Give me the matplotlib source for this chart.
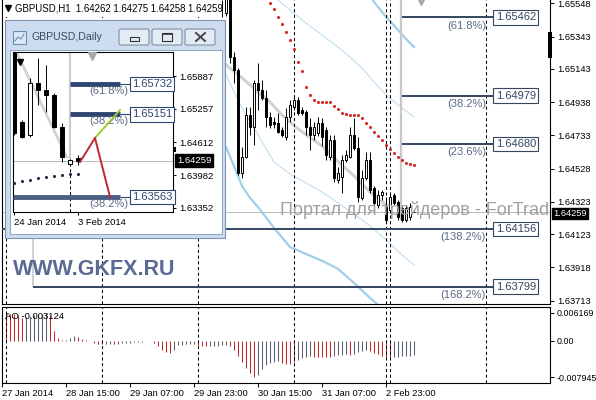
import matplotlib
matplotlib.use('Agg')
import matplotlib.pyplot as plt
from matplotlib.patches import Rectangle, FancyBboxPatch

plt.rcParams['font.family'] = ['Liberation Sans', 'DejaVu Sans']

# ---- GBPUSD H1 candles (bar index counted from 27 Jan 23:00) ----
h1_idx = list(range(56, 104))
h1_open = [1.65489, 1.65600, 1.65217, 1.65137, 1.64501, 1.64600, 1.64859, 1.64785, 1.65057, 1.65013,
           1.64964, 1.64847, 1.64816, 1.64810, 1.64767, 1.64723, 1.64847, 1.64909, 1.64952, 1.64890,
           1.64878, 1.64785, 1.64736, 1.64748, 1.64810, 1.64767, 1.64600, 1.64705, 1.64458, 1.64476,
           1.64581, 1.64600, 1.64736, 1.64656, 1.64347, 1.64470, 1.64581, 1.64409, 1.64303, 1.64365,
           1.64291, 1.64273, 1.64365, 1.64322, 1.64285, 1.64211, 1.64229, 1.64262]
h1_high = [1.65631, 1.65631, 1.65248, 1.65149, 1.64662, 1.64909, 1.64909, 1.65075, 1.65180, 1.65075,
           1.65013, 1.64878, 1.64847, 1.64872, 1.64785, 1.64902, 1.64952, 1.64970, 1.64970, 1.64909,
           1.64890, 1.64841, 1.64816, 1.64847, 1.64841, 1.64785, 1.64736, 1.64736, 1.64538, 1.64612,
           1.64643, 1.64785, 1.64841, 1.64723, 1.64520, 1.64631, 1.64631, 1.64420, 1.64396, 1.64396,
           1.64353, 1.64384, 1.64378, 1.64334, 1.64303, 1.64303, 1.64316, 1.64275]
h1_low = [1.65470, 1.65180, 1.65057, 1.64489, 1.64470, 1.64594, 1.64736, 1.64674, 1.64890, 1.64952,
          1.64785, 1.64779, 1.64779, 1.64748, 1.64723, 1.64705, 1.64816, 1.64890, 1.64859, 1.64859,
          1.64736, 1.64643, 1.64705, 1.64730, 1.64668, 1.64581, 1.64581, 1.64446, 1.64439, 1.64378,
          1.64569, 1.64594, 1.64643, 1.64322, 1.64334, 1.64458, 1.64378, 1.64303, 1.64285, 1.64334,
          1.64199, 1.64254, 1.64303, 1.64211, 1.64199, 1.64199, 1.64211, 1.64258]
h1_close = [1.65581, 1.65217, 1.65137, 1.64501, 1.64600, 1.64859, 1.64785, 1.65057, 1.65013, 1.64964,
            1.64847, 1.64797, 1.64804, 1.64754, 1.64736, 1.64847, 1.64921, 1.64952, 1.64872, 1.64872,
            1.64785, 1.64736, 1.64785, 1.64810, 1.64723, 1.64612, 1.64705, 1.64470, 1.64501, 1.64581,
            1.64612, 1.64736, 1.64656, 1.64353, 1.64470, 1.64581, 1.64396, 1.64316, 1.64365, 1.64384,
            1.64211, 1.64353, 1.64316, 1.64229, 1.64211, 1.64285, 1.64291, 1.64259]

# red dotted indicator
sar_idx = list(range(67, 104))
sar_val = [1.65550, 1.65513, 1.65464, 1.65421, 1.65371, 1.65322, 1.65267, 1.65186, 1.65131, 1.65032,
           1.64983, 1.64952, 1.64939, 1.64939, 1.64939, 1.64939, 1.64915, 1.64896, 1.64871, 1.64865,
           1.64859, 1.64859, 1.64859, 1.64841, 1.64810, 1.64785, 1.64754, 1.64729, 1.64705, 1.64674,
           1.64649, 1.64625, 1.64600, 1.64581, 1.64563, 1.64557, 1.64550]

# band lines
up_thick_idx = [91, 93, 95, 97, 99, 101, 103]
up_thick_val = [1.65631, 1.65557, 1.65495, 1.65439, 1.65384, 1.65328, 1.65279]
lo_thick_idx = [56, 58, 60, 62, 64, 68, 72, 76, 80, 84, 88, 92, 96, 100, 103]
lo_thick_val = [1.64662, 1.64544, 1.64421, 1.64347, 1.64291, 1.64162, 1.64044, 1.64001, 1.63959,
                1.63909, 1.63822, 1.63730, 1.63643, 1.63563, 1.63501]
up_thin_idx = [66, 69, 72, 75, 78, 81, 84, 87, 90, 93, 96, 100, 103]
up_thin_val = [1.65631, 1.65569, 1.65507, 1.65446, 1.65390, 1.65334, 1.65279, 1.65217, 1.65149,
               1.65063, 1.64983, 1.64902, 1.64847]
lo_thin_idx = [56, 60, 64, 68, 72, 76, 80, 84, 88, 92, 96, 100, 103]
lo_thin_val = [1.65106, 1.64902, 1.64736, 1.64569, 1.64495, 1.64439, 1.64384, 1.64316, 1.64248,
               1.64174, 1.64088, 1.63995, 1.63933]
gray_idx = [56, 60, 64, 67, 70, 74, 80, 83, 88, 92, 96]
gray_val = [1.65168, 1.65088, 1.65001, 1.64939, 1.64859, 1.64773, 1.64668, 1.64594, 1.64483,
            1.64384, 1.64303]

# fibo expansion levels
fib_levels = [1.65462, 1.64979, 1.64680, 1.64156, 1.63799]
fib_names = ['(61.8%)', '(38.2%)', '(23.6%)', '(138.2%)', '(168.2%)']
fib_start = [100, 100, 100, 0, 7.75]

separators = [1, 25, 49, 73, 96, 97, 121]
main_ticks = [1.65548, 1.65343, 1.65143, 1.64938, 1.64733, 1.64528, 1.64323, 1.64123, 1.63918, 1.63713]
time_pos = [0, 16, 32, 48, 64, 80, 96]
time_labels = ['27 Jan 2014', '28 Jan 15:00', '29 Jan 07:00', '29 Jan 23:00',
               '30 Jan 15:00', '31 Jan 07:00', '2 Feb 23:00']

# Awesome Oscillator
ao_vals = [0.00620, 0.00612, 0.00604, 0.00593, 0.00577, 0.00500, 0.00530, 0.00552, 0.00570, 0.00588,
           0.00603, 0.006169, 0.00580, 0.00222, 0.00063, 0.00020, 0.00032, 0.00071, 0.00103, 0.00087,
           0.00048, 0.00020, -0.00007, -0.00035, -0.00055, -0.00069, -0.00066, -0.00062, -0.00069, -0.00062,
           -0.00048, -0.00042, -0.00035, -0.00028, -0.00021, -0.00014, -0.00010, -0.00007, -0.00048, -0.00118,
           -0.00187, -0.00235, -0.00256, -0.00200, -0.00097, -0.00083, -0.00076, -0.00072, -0.00069, -0.00090,
           -0.00104, -0.00111, -0.00108, -0.00104, -0.00101, -0.00097, -0.00090, -0.00118, -0.00187, -0.00325,
           -0.00463, -0.00587, -0.00705, -0.007945, -0.00753, -0.00615, -0.00532, -0.00484, -0.00463, -0.00449,
           -0.00477, -0.00498, -0.00511, -0.00463, -0.00415, -0.00380, -0.00359, -0.00339, -0.00342, -0.00346,
           -0.00350, -0.00352, -0.00355, -0.00325, -0.00311, -0.00297, -0.00290, -0.00304, -0.00276, -0.00242,
           -0.00221, -0.00207, -0.00221, -0.00256, -0.00290, -0.00325, -0.00346, -0.00359, -0.00352, -0.00345,
           -0.00338, -0.00332, -0.00325, -0.003124]
ao_ticks = [0.006169, 0.0, -0.007945]
ao_tick_labels = ['0.006169', '0.00', '-0.007945']

# ---- GBPUSD Daily (inset) ----
d_idx = list(range(9))
d_open = [1.66482, 1.65004, 1.64754, 1.65753, 1.65618, 1.65522, 1.64908, 1.64197, 1.64312]
d_high = [1.66578, 1.65042, 1.65849, 1.66233, 1.66098, 1.65560, 1.64984, 1.64293, 1.64370]
d_low = [1.64754, 1.64696, 1.64716, 1.65330, 1.65196, 1.64888, 1.64235, 1.64178, 1.64178]
d_close = [1.64792, 1.64716, 1.65753, 1.65618, 1.65522, 1.64908, 1.64331, 1.64274, 1.64259]
d_sar = [1.63832, 1.63861, 1.63890, 1.63928, 1.63947, 1.63967, 1.63986, 1.64005, 1.64005]
d_trend_x = [0, 6.6]
d_trend_y = [1.66444, 1.64331]
d_fib_levels = [1.65732, 1.65151, 1.63563]
d_fib_names = ['(61.8%)', '(38.2%)', '(38.2%)']
d_fib_start = [7, 7, -0.125]
d_red1_x, d_red1_y = [8.25, 10.125], [1.64235, 1.64696]
d_green_x, d_green_y = [10.125, 13.25], [1.64696, 1.65234]
d_red2_x, d_red2_y = [10.125, 12], [1.64696, 1.63563]
d_ticks = [1.65887, 1.65257, 1.64612, 1.63982, 1.63352]
d_time_pos = [0, 8]
d_time_labels = ['24 Jan 2014', '3 Feb 2014']

bid = h1_close[-1]
fib_col = '#34465f'
pct_col = '#5b6b82'
red_col = '#c0282d'
gray_col = '#56606e'

fig = plt.figure(figsize=(5.96, 4), dpi=100)
fig.patch.set_facecolor('white')

# ---- main H1 chart ----
ax = fig.add_axes([2 / 596, 1 - 304 / 400, 548 / 596, 304 / 400])
ax.set_xlim(0, 137)
ax.set_ylim(1.63692, 1.65569)

ax.plot(lo_thick_idx, lo_thick_val, color='#9fcfea', lw=1.6, zorder=1)
ax.plot(up_thick_idx, up_thick_val, color='#9fcfea', lw=1.6, zorder=1)
ax.plot(up_thin_idx, up_thin_val, color='#b6dbef', lw=0.7, zorder=1)
ax.plot(lo_thin_idx, lo_thin_val, color='#b6dbef', lw=0.7, zorder=1)
ax.plot(gray_idx, gray_val, color='#d2d2d2', lw=2.2, zorder=1)

for s in separators:
    ax.axvline(s, color='black', lw=0.75, ls=(0, (3, 2.5)), zorder=2)
ax.axhline(bid, color='#b8b8b8', lw=0.7, zorder=2)
ax.vlines(99.75, 1.64211, 1.657, color='#c8c8c8', lw=1.6, zorder=2)
ax.vlines(7.75, 1.63799, 1.6460, color='#c8c8c8', lw=1.2, zorder=2)
ax.plot(104.75, 1.65562, marker='v', color='#a8a8a8', ms=6, zorder=2)

# candles
bottoms = [min(o, c) for o, c in zip(h1_open, h1_close)]
heights = [abs(c - o) for o, c in zip(h1_open, h1_close)]
fills = ['white' if c >= o else 'black' for o, c in zip(h1_open, h1_close)]
ax.vlines(h1_idx, h1_low, h1_high, color='black', lw=0.7, zorder=3)
ax.bar(h1_idx, heights, bottom=bottoms, width=0.7, color=fills, edgecolor='black', linewidth=0.7, zorder=4)

ax.scatter(sar_idx, sar_val, s=5, color='#d42a2a', linewidths=0, zorder=5)

for lev, name, st in zip(fib_levels, fib_names, fib_start):
    ax.hlines(lev, st, 122.75, color=fib_col, lw=1.4, zorder=5)
    ax.annotate(name, (121, lev), xytext=(0, -2.5), textcoords='offset points',
                ha='right', va='top', fontsize=8, color=pct_col, zorder=6)
    ax.text(123.4, lev, '%.5f' % lev, ha='left', va='center', fontsize=8, color=fib_col, zorder=6,
            bbox=dict(boxstyle='square,pad=0.2', fc='white', ec=fib_col, lw=0.8))

ax.text(2.75, 1.63871, 'WWW.GKFX.RU', fontsize=15.5, fontweight='bold', color='#5a6b93',
        va='baseline', ha='left', zorder=6)
ax.text(69.5, 1.64273, 'Портал для трейдеров - ForTrader.ru', fontsize=13, color='#a0a0a0',
        va='center', ha='left', zorder=6, clip_on=True)

ax.yaxis.tick_right()
ax.set_yticks(main_ticks)
ax.set_yticklabels(['%.5f' % t for t in main_ticks])
ax.tick_params(axis='y', length=3, width=0.7, pad=2.5, labelsize=6.7, direction='out')
ax.set_xticks([])
ax.spines['top'].set_visible(False)
for sp in ['left', 'right', 'bottom']:
    ax.spines[sp].set_linewidth(0.8)
ax.annotate('%.5f' % bid, xy=(1, bid), xycoords=('axes fraction', 'data'), xytext=(2.5, -1),
            textcoords='offset points', ha='left', va='center', fontsize=6.7, color='white',
            bbox=dict(boxstyle='square,pad=0.15', fc='black', ec='black'), annotation_clip=False)

# ---- AO panel ----
ax2 = fig.add_axes([2 / 596, 1 - 383 / 400, 548 / 596, 76 / 400])
ax2.set_xlim(0, 137)
ax2.set_ylim(-0.00924, 0.00748)
ao_idx = list(range(len(ao_vals)))
ao_colors = [red_col if k == 0 or ao_vals[k] < ao_vals[k - 1] else gray_col for k in ao_idx]
ax2.vlines(ao_idx, 0, ao_vals, colors=ao_colors, lw=0.75)
for s in separators:
    ax2.axvline(s, color='black', lw=0.75, ls=(0, (3, 2.5)))
ax2.text(0.006, 0.93, 'AO %.6f' % ao_vals[-1], transform=ax2.transAxes, va='top', ha='left', fontsize=6.8)
ax2.yaxis.tick_right()
ax2.set_yticks(ao_ticks)
ax2.set_yticklabels(ao_tick_labels)
ax2.set_xticks(time_pos)
ax2.set_xticklabels(time_labels, ha='left')
ax2.tick_params(axis='y', length=3, width=0.7, pad=2, labelsize=6.4)
ax2.tick_params(axis='x', length=3, width=0.7, pad=1.5, labelsize=6.7)
for sp in ax2.spines.values():
    sp.set_linewidth(0.8)

# ---- window chrome (pixel coordinates) ----
axc = fig.add_axes([0, 0, 1, 1], zorder=10)
axc.set_xlim(0, 596)
axc.set_ylim(400, 0)
axc.axis('off')
axc.patch.set_alpha(0)

axc.add_patch(Rectangle((2.5, 0), 219.5, 17, fc='white', ec='none'))
axc.vlines(222, 0, 17, color='black', lw=0.7)
axc.plot(8, 8, marker='v', color='black', ms=4)
axc.text(15, 8.5, 'GBPUSD,H1  %.5f %.5f %.5f %.5f' % (h1_open[-1], h1_high[-1], h1_low[-1], h1_close[-1]),
         fontsize=6.9, va='center', ha='left')
axc.add_patch(Rectangle((548, 32), 4, 26, fc='black', ec='none'))

axc.add_patch(Rectangle((5, 20), 220, 218, fc='#cddcee', ec='#8094b0', lw=0.8))
axc.add_patch(Rectangle((10, 50), 212, 184, fc='white', ec='#8fa3bd', lw=0.7))
axc.add_patch(Rectangle((13, 31), 13, 13, fc='#dbe8f5', ec='#6d8fb5', lw=0.8))
axc.plot([15, 18, 21, 24], [41, 37, 39, 34], color='#6d8fb5', lw=0.8)
axc.text(32, 37, 'GBPUSD,Daily', fontsize=7.6, color='#3a4b62', va='center', ha='left')
for bx in [119, 152, 185]:
    axc.add_patch(FancyBboxPatch((bx, 29), 30, 16, boxstyle='round,pad=0,rounding_size=2',
                                 fc='#e3ebf4', ec='#7d8fa8', lw=0.8))
axc.add_patch(Rectangle((130, 37), 9, 4, fc='none', ec='#333333', lw=0.8))
axc.add_patch(Rectangle((162, 33), 10, 8, fc='none', ec='#333333', lw=0.8))
axc.hlines(34, 162, 172, color='#333333', lw=1.2)
axc.plot([196, 205], [33, 41], color='#444444', lw=1.4)
axc.plot([196, 205], [41, 33], color='#444444', lw=1.4)
axc.add_patch(Rectangle((173, 147), 2.5, 5, fc='black', ec='none'))

# ---- inset daily chart ----
axi = fig.add_axes([13 / 596, 1 - 212 / 400, 160 / 596, 160 / 400], zorder=11)
axi.set_xlim(-0.125, 19.875)
axi.set_ylim(1.63275, 1.66348)
axi.plot(d_trend_x, d_trend_y, color='#d2d2d2', lw=2, zorder=1)
axi.vlines(7, d_close[7], 1.6640, color='#cccccc', lw=1.5, zorder=1)
axi.vlines(7, 1.63275, d_open[7], color='black', lw=0.75, ls=(0, (3, 2.5)), zorder=1)
axi.axhline(d_close[-1], color='#b8b8b8', lw=0.7, zorder=1)
d_bottoms = [min(o, c) for o, c in zip(d_open, d_close)]
d_heights = [abs(c - o) for o, c in zip(d_open, d_close)]
d_fills = ['white' if c >= o else 'black' for o, c in zip(d_open, d_close)]
axi.vlines(d_idx, d_low, d_high, color='black', lw=0.7, zorder=3)
axi.bar(d_idx, d_heights, bottom=d_bottoms, width=0.55, color=d_fills, edgecolor='black',
        linewidth=0.7, zorder=4)
axi.scatter(d_idx, d_sar, s=5, color='#1f2a44', linewidths=0, zorder=4)
axi.plot(0.75, 1.66165, marker='v', color='black', ms=4, zorder=4)
axi.plot(9.75, 1.66271, marker='v', color='#a8a8a8', ms=6, zorder=4)
for lev, name, st in zip(d_fib_levels, d_fib_names, d_fib_start):
    axi.hlines(lev, st, 13.25, color='#2e4670' if st > 0 else '#4c5f85', lw=3.5, zorder=5)
    axi.hlines(lev, 13.25, 14.5, color='#2e4670', lw=0.8, zorder=5)
    axi.annotate(name, (14.25, lev), xytext=(0, -1.5), textcoords='offset points',
                 ha='right', va='top', fontsize=8, color=pct_col, zorder=6)
    axi.text(14.75, lev, '%.5f' % lev, ha='left', va='center', fontsize=8, color='#2e4670', zorder=6,
             bbox=dict(boxstyle='square,pad=0.2', fc='white', ec='#2e4670', lw=0.8))
axi.plot(d_red1_x, d_red1_y, color=red_col, lw=1.4, zorder=6)
axi.plot(d_green_x, d_green_y, color='#9acd32', lw=1.4, zorder=6)
axi.plot(d_red2_x, d_red2_y, color=red_col, lw=1.4, zorder=6)

axi.yaxis.tick_right()
axi.set_yticks(d_ticks)
axi.set_yticklabels(['%.5f' % t for t in d_ticks])
axi.set_xticks(d_time_pos)
axi.set_xticklabels(d_time_labels, ha='left')
axi.tick_params(axis='y', length=2.5, width=0.7, pad=2, labelsize=6.8)
axi.tick_params(axis='x', length=2.5, width=0.7, pad=1.5, labelsize=6.8)
for sp in axi.spines.values():
    sp.set_linewidth(0.8)
axi.annotate('%.5f' % d_close[-1], xy=(1, d_close[-1]), xycoords=('axes fraction', 'data'),
             xytext=(3, 0), textcoords='offset points', ha='left', va='center', fontsize=6.8,
             color='white', bbox=dict(boxstyle='square,pad=0.2', fc='black', ec='black'),
             annotation_clip=False)

fig.savefig('out.png', dpi=100)
